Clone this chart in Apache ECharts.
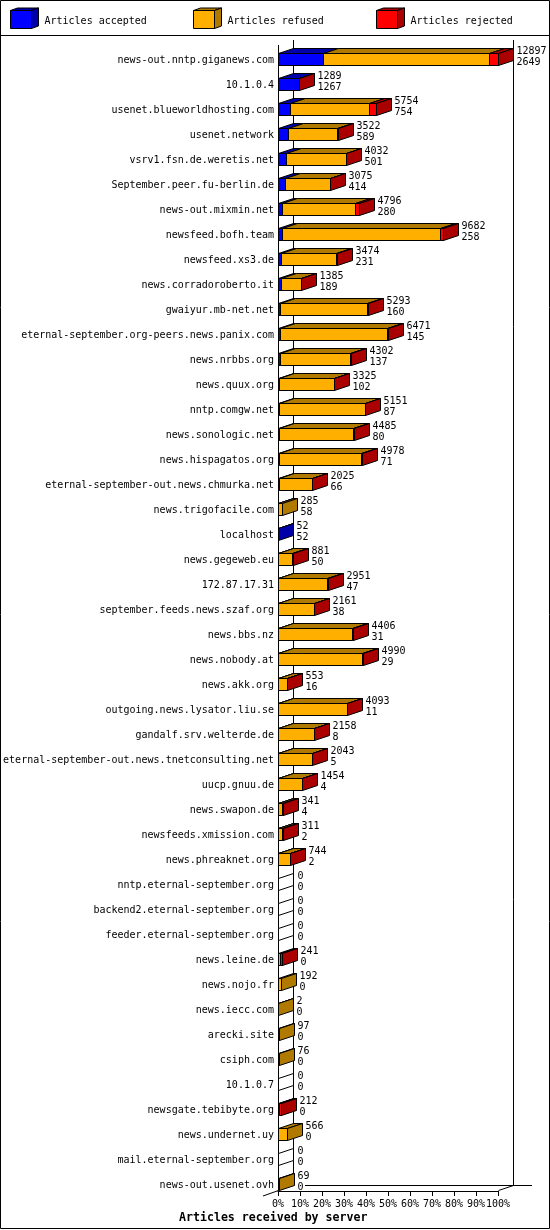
<!DOCTYPE html>
<html>
<head>
<meta charset="utf-8">
<style>html,body{margin:0;padding:0;background:#fff}#c{width:550px;height:1230px}</style>
<script src="https://cdn.jsdelivr.net/npm/echarts@6/dist/echarts.min.js"></script>
</head>
<body>
<div id="c"></div>
<script>
const servers = ["news-out.nntp.giganews.com","10.1.0.4","usenet.blueworldhosting.com","usenet.network","vsrv1.fsn.de.weretis.net","September.peer.fu-berlin.de","news-out.mixmin.net","newsfeed.bofh.team","newsfeed.xs3.de","news.corradoroberto.it","gwaiyur.mb-net.net","eternal-september.org-peers.news.panix.com","news.nrbbs.org","news.quux.org","nntp.comgw.net","news.sonologic.net","news.hispagatos.org","eternal-september-out.news.chmurka.net","news.trigofacile.com","localhost","news.gegeweb.eu","172.87.17.31","september.feeds.news.szaf.org","news.bbs.nz","news.nobody.at","news.akk.org","outgoing.news.lysator.liu.se","gandalf.srv.welterde.de","eternal-september-out.news.tnetconsulting.net","uucp.gnuu.de","news.swapon.de","newsfeeds.xmission.com","news.phreaknet.org","nntp.eternal-september.org","backend2.eternal-september.org","feeder.eternal-september.org","news.leine.de","news.nojo.fr","news.iecc.com","arecki.site","csiph.com","10.1.0.7","newsgate.tebibyte.org","news.undernet.uy","mail.eternal-september.org","news-out.usenet.ovh"];
const offered = [12897,1289,5754,3522,4032,3075,4796,9682,3474,1385,5293,6471,4302,3325,5151,4485,4978,2025,285,52,881,2951,2161,4406,4990,553,4093,2158,2043,1454,341,311,744,0,0,0,241,192,2,97,76,0,212,566,0,69];
const accepted = [2649,1267,754,589,501,414,280,258,231,189,160,145,137,102,87,80,71,66,58,52,50,47,38,31,29,16,11,8,5,4,4,2,2,0,0,0,0,0,0,0,0,0,0,0,0,0];
const rejected = [500,22,400,60,40,20,250,180,60,10,50,60,30,5,40,30,80,5,0,0,5,40,20,30,20,3,2,2,2,2,75,55,2,0,0,0,81,0,0,0,0,0,102,0,0,0];
const refused = offered.map(function (t, i) { return t - accepted[i] - rejected[i]; });
const percentTicks = [0,10,20,30,40,50,60,70,80,90,100];
const seriesNames = ["Articles accepted","Articles refused","Articles rejected"];
const frontColors = ["#0000ff","#ffaf00","#ff0000"];
const darkColors = ["#0000aa","#b07a00","#aa0000"];

const DX = 15, DY = 5, HALF = 6;
const FONT = '"DejaVu Sans Mono", monospace';
const maxOffered = Math.max.apply(null, offered);
const pct = function (v) { return v / maxOffered * 100; };
const crisp = function (v) { return Math.round(v - 0.5) + 0.5; };
const lineStyle = { stroke: "#000", lineWidth: 1 };

function segmentData(k) {
  const sets = [accepted, refused, rejected];
  const out = [];
  servers.forEach(function (_, i) {
    const v = sets[k][i];
    if (v <= 0) return;
    let start = 0;
    for (let j = 0; j < k; j++) start += sets[j][i];
    let last = true;
    for (let j = k + 1; j < 3; j++) if (sets[j][i] > 0) last = false;
    out.push([pct(start), pct(start + v), i, last ? 1 : 0]);
  });
  return out;
}

function segmentRenderer(k) {
  return function (params, api) {
    const a = api.coord([api.value(0), api.value(2)]);
    const b = api.coord([api.value(1), api.value(2)]);
    const x0 = crisp(a[0]), x1 = crisp(b[0]);
    const yt = a[1] - HALF, yb = a[1] + HALF;
    const children = [
      { type: "polygon", shape: { points: [[x0, yt], [x1, yt], [x1 + DX, yt - DY], [x0 + DX, yt - DY]] },
        style: { fill: darkColors[k], stroke: "#000", lineWidth: 1 } },
      { type: "rect", shape: { x: x0, y: yt, width: x1 - x0, height: yb - yt },
        style: { fill: frontColors[k], stroke: "#000", lineWidth: 1 } }
    ];
    if (api.value(3) === 1) {
      children.push({ type: "polygon", shape: { points: [[x1, yt], [x1 + DX, yt - DY], [x1 + DX, yb - DY], [x1, yb]] },
        style: { fill: darkColors[k], stroke: "#000", lineWidth: 1 } });
    }
    return { type: "group", children: children };
  };
}

const countData = servers.map(function (_, i) { return [pct(offered[i]), i, offered[i], accepted[i]]; });
function countRenderer(params, api) {
  const p = api.coord([api.value(0), api.value(1)]);
  const x1 = crisp(p[0]);
  const yt = p[1] - HALF, yb = p[1] + HALF;
  const tx = x1 + DX + 3;
  const children = [];
  if (api.value(2) === 0) {
    children.push({ type: "polygon", shape: { points: [[x1, yt], [x1 + DX, yt - DY], [x1 + DX, yb - DY], [x1, yb]] },
      style: { fill: "#fff", stroke: "#000", lineWidth: 1 } });
  }
  [[api.value(2), -8.5], [api.value(3), 2.5]].forEach(function (t) {
    children.push({ type: "text", style: { x: tx + (api.value(2) === 0 ? 1 : 0), y: p[1] + t[1], text: String(t[0]), fill: "#000",
      font: "10px " + FONT, align: "left", verticalAlign: "middle", textAlign: "left", textVerticalAlign: "middle" } });
  });
  return { type: "group", children: children };
}

const legendLeft = [10, 193, 376];
const line = function (x1, y1, x2, y2) {
  return { type: "line", silent: true, shape: { x1: x1, y1: y1, x2: x2, y2: y2 }, style: lineStyle };
};
const cubeParts = [];
legendLeft.forEach(function (x, k) {
  const l = x + 0.5, r = l + 21, t = 10.5, b = 28.5;
  cubeParts.push({ type: "polygon", silent: true, shape: { points: [[l, t], [r, t], [r + 7, t - 2.5], [l + 7, t - 2.5]] }, style: { fill: darkColors[k], stroke: "#000" } });
  cubeParts.push({ type: "polygon", silent: true, shape: { points: [[r, t], [r + 7, t - 2.5], [r + 7, b - 2.5], [r, b]] }, style: { fill: darkColors[k], stroke: "#000" } });
});

const chart = echarts.init(document.getElementById("c"), null, { width: 550, height: 1230, renderer: "canvas" });
chart.setOption({
  animation: false,
  backgroundColor: "#fff",
  title: { text: "Articles received by server", left: 179, top: 1212, padding: 0,
    textStyle: { fontFamily: FONT, fontWeight: "bold", fontSize: 11.6, color: "#000" } },
  legend: seriesNames.map(function (n, k) {
    return { data: [{ name: n, icon: "rect" }], left: legendLeft[k], top: 10, padding: 0, itemWidth: 21, itemHeight: 18, selectedMode: false,
      itemStyle: { color: frontColors[k], borderColor: "#000", borderWidth: 1 },
      formatter: function (name) { return "{a|" + name + "}"; },
      textStyle: { fontFamily: FONT, fontSize: 10, color: "#000",
        rich: { a: { fontFamily: FONT, fontSize: 10, color: "#000", padding: [4, 0, 0, 8] } } } };
  }),
  grid: { left: 278, top: 47, width: 220, height: 1150, containLabel: false },
  xAxis: { type: "value", min: percentTicks[0], max: percentTicks[percentTicks.length - 1], interval: 10, offset: -6,
    axisLine: { show: true, lineStyle: { color: "#000", width: 1 } },
    axisTick: { show: true, length: 5, lineStyle: { color: "#000", width: 1 } },
    splitLine: { show: false },
    axisLabel: { formatter: "{value}%", color: "#000", fontFamily: FONT, fontSize: 10, margin: 8, hideOverlap: false, showMinLabel: true, showMaxLabel: true } },
  yAxis: { type: "category", data: servers, inverse: true,
    axisLine: { show: false }, axisTick: { show: false }, splitLine: { show: false },
    axisLabel: { interval: 0, margin: 4, color: "#000", fontFamily: FONT, fontSize: 10, verticalAlign: "top", lineHeight: 1 } },
  graphic: { elements: [
    { type: "group", z: 0, children: [
      { type: "rect", silent: true, shape: { x: 0.5, y: 0.5, width: 549, height: 1228 }, style: { fill: "none", stroke: "#000" } },
      line(0, 35.5, 550, 35.5),
      line(278.5, 45, 278.5, 1191),
      line(293.5, 40, 293.5, 1186),
      line(513.5, 40, 513.5, 1186),
      line(305, 1185.5, 532, 1185.5),
      line(263, 1196, 278.5, 1190.5),
      line(498.5, 1190.5, 513.5, 1185.5)
    ].concat(cubeParts) }
  ] },
  series: [0, 1, 2].map(function (k) {
    return { name: seriesNames[k], type: "custom", coordinateSystem: "cartesian2d", silent: true,
      itemStyle: { color: frontColors[k] }, data: segmentData(k),
      encode: { x: [0, 1], y: 2 }, renderItem: segmentRenderer(k), clip: false };
  }).concat([{ name: "Article counts", type: "custom", coordinateSystem: "cartesian2d", silent: true,
    data: countData, encode: { x: 0, y: 1 }, renderItem: countRenderer, clip: false }])
});
</script>
</body>
</html>
